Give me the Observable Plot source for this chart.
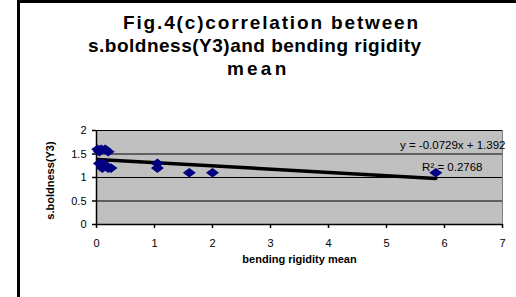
<!DOCTYPE html>
<html><head><meta charset="utf-8">
<script src="https://cdn.jsdelivr.net/npm/d3@7"></script>
<script src="https://cdn.jsdelivr.net/npm/@observablehq/plot@0.6"></script>
<style>
body{margin:0;background:#fff;}
#wrap{position:relative;width:516px;height:297px;overflow:hidden;font-family:"Liberation Sans",Arial,sans-serif;}
#frame{position:absolute;left:17px;top:0;width:700px;height:500px;border-left:3px solid #000;border-top:3px solid #000;box-sizing:border-box;}
.t{position:absolute;font-weight:bold;font-size:19px;white-space:nowrap;line-height:1;}
#chart{position:absolute;left:0;top:0;}
</style></head>
<body><div id="wrap"><div id="frame"></div>
<div class="t" id="t1" style="left:123px;top:13px;letter-spacing:1.85px">Fig.4(c)correlation between</div>
<div class="t" id="t2" style="left:88px;top:36px;letter-spacing:0.5px">s.boldness(Y3)and bending rigidity</div>
<div class="t" id="t3" style="left:227px;top:59px;letter-spacing:3.2px">mean</div>
<div id="chart"></div></div>
<script>
const bendingX = [0.02,0.08,0.15,0.20,0.05,0.05,0.12,0.10,0.20,0.25,1.05,1.05,1.60,2.00,5.85];
const boldnessY = [1.60,1.60,1.60,1.55,1.55,1.30,1.30,1.20,1.20,1.20,1.30,1.20,1.10,1.10,1.10];
const xTicks = [0,1,2,3,4,5,6,7];
const yTicks = [0,0.5,1,1.5,2];
const equation = "y = -0.0729x + 1.392";
const rSquared = "R² = 0.2768";
const xTitle = "bending rigidity mean";
const yTitle = "s.boldness(Y3)";

const data = bendingX.map((x,i)=>({x, y: boldnessY[i]}));
const wideDiamond = {draw(ctx){ ctx.moveTo(-6.5,0); ctx.lineTo(0,-4.8); ctx.lineTo(6.5,0); ctx.lineTo(0,4.8); ctx.closePath(); }};

const chart = Plot.plot({
  width:516, height:297,
  marginLeft:96, marginRight:14, marginTop:130, marginBottom:73,
  style:{fontFamily:"Liberation Sans, Arial, sans-serif", fontSize:"11px", color:"#000", background:"transparent"},
  x:{domain:[0,7], ticks:xTicks, label:null},
  y:{domain:[0,2], ticks:yTicks, label:null},
  marks:[
    Plot.frame({fill:"#c0c0c0", stroke:"#808080"}),
    Plot.ruleY(yTicks.filter(d=>d>0), {stroke:"#000", strokeWidth:1}),
    Plot.ruleY([0], {stroke:"#000", strokeWidth:1.5}),
    Plot.ruleX([0], {stroke:"#000", strokeWidth:1.5}),
    Plot.axisX({ticks:xTicks, tickSize:4, tickPadding:11, tickFormat:d=>String(d), stroke:"#000", strokeWidth:1.5, label:null}),
    Plot.axisY({ticks:yTicks, tickSize:4, tickPadding:6, tickFormat:d=>String(d), stroke:"#000", strokeWidth:1.5, label:null}),
    Plot.linearRegressionY(data, {x:"x", y:"y", stroke:"#000", strokeWidth:3.5, ci:0}),
    Plot.dot(data, {x:"x", y:"y", symbol:wideDiamond, fill:"#000080", stroke:"none"}),
    Plot.text([equation], {frameAnchor:"top-right", dx:3, dy:10, textAnchor:"end", fontSize:11.5}),
    Plot.text([rSquared], {frameAnchor:"top-right", dx:-20, dy:32, textAnchor:"end", fontSize:11.5}),
    Plot.text([xTitle], {frameAnchor:"bottom", dy:38, fontWeight:"bold", fontSize:11, letterSpacing:"1.2px"}),
    Plot.text([yTitle], {frameAnchor:"left", textAnchor:"middle", dx:-46, dy:3, rotate:-90, fontWeight:"bold", fontSize:11, letterSpacing:"1.1px"})
  ]
});
chart.style.overflow="visible";
document.getElementById("chart").appendChild(chart);
</script></body></html>
